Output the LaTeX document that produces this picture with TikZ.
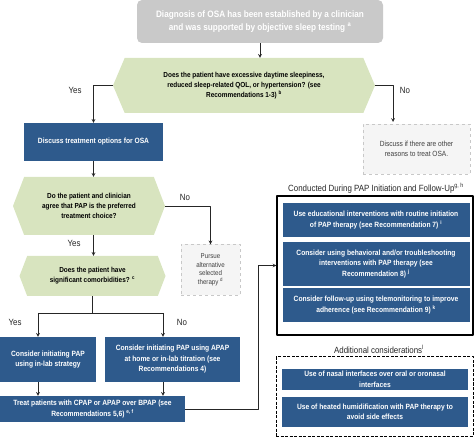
\documentclass[tikz,border=0pt]{standalone}
\usepackage{fontspec}
\setmainfont{Liberation Sans}[FakeStretch=0.88]
\usetikzlibrary{shapes.symbols}
\definecolor{osablue}{HTML}{2E5A8C}
\definecolor{osagreen}{HTML}{D8E4BF}
\definecolor{osagray}{HTML}{C9C9C9}
\definecolor{palegray}{HTML}{F5F5F5}
\definecolor{dashgray}{HTML}{C8C8C8}
\begin{document}
\begin{tikzpicture}[x=1pt, y=-1pt, line join=round, >=stealth, font=\fontsize{7.6}{10.5}\selectfont\bfseries,
		conn/.style={line width=0.7pt, black!85},
		bluebox/.style={fill=osablue, text=white, inner sep=0pt, align=center},
		question/.style={signal, signal to=west and east, signal pointer angle=138, fill=osagreen, inner sep=0pt, align=center, font=\fontsize{7.3}{10}\selectfont\bfseries},
		grybox/.style={draw=dashgray, dashed, fill=palegray, text=black!75, font=\fontsize{7.5}{9.5}\selectfont, inner sep=0pt, align=center},
		lbl/.style={font=\fontsize{9}{10}\selectfont, text=black!85}]
	\useasboundingbox (0,0) rectangle (474,438);
	% main column
	\node[fill=osagray, rounded corners=5pt, text=white, font=\fontsize{9.3}{13.5}\selectfont\bfseries, align=center, inner sep=0pt, minimum width=246pt, minimum height=43pt] (diag) at (260,21.5) {Diagnosis of OSA has been established by a clinician\\and was supported by objective sleep testing \textsuperscript{a}};
	\node[question, signal pointer angle=134, minimum width=262pt, minimum height=55pt] (q1) at (244,85.5) {Does the patient have excessive daytime sleepiness,\\reduced sleep-related QOL, or hypertension? (see\\Recommendations 1-3) \textsuperscript{b}};
	\node[bluebox, minimum width=139pt, minimum height=38pt] (discuss) at (93.5,142) {Discuss treatment options for OSA};
	\node[grybox, minimum width=107pt, minimum height=50pt] (other) at (416.5,149) {Discuss if there are other\\reasons to treat OSA.};
	\node[question, minimum width=152pt, minimum height=58pt] (q2) at (89,206) {Do the patient and clinician\\agree that PAP is the preferred\\treatment choice?};
	\node[grybox, minimum width=59pt, minimum height=51pt, font=\fontsize{7}{8.5}\selectfont] (pursue) at (210.5,270) {Pursue\\alternative\\selected\\therapy \textsuperscript{d}};
	\node[question, minimum width=146pt, minimum height=40pt] (q3) at (92.5,276) {Does the patient have\\significant comorbidities? \textsuperscript{c}};
	\node[bluebox, minimum width=96pt, minimum height=45pt] (inlab) at (48,359.5) {Consider initiating PAP\\using in-lab strategy};
	\node[bluebox, minimum width=135pt, minimum height=45pt] (apap) at (172.5,359.5) {Consider initiating PAP using APAP\\at home or in-lab titration (see\\Recommendations 4)};
	\node[bluebox, minimum width=185pt, minimum height=26pt] (treat) at (92.5,409) {Treat patients with CPAP or APAP over BPAP (see\\Recommendations 5,6) \textsuperscript{e, f}};
	% follow-up group
	\node[lbl] (grptitle) at (376,188) {Conducted During PAP Initiation and Follow-Up\textsuperscript{g, h}};
	\node[draw, line width=1.1pt, minimum width=196pt, minimum height=139pt, inner sep=0pt] (grp) at (375,265.5) {};
	\node[bluebox, minimum width=187pt, minimum height=34pt] (edu) at (376,220) {Use educational interventions with routine initiation\\of PAP therapy (see Recommendation 7) \textsuperscript{i}};
	\node[bluebox, minimum width=187pt, minimum height=44pt] (behav) at (376,264) {Consider using behavioral and/or troubleshooting\\interventions with PAP therapy (see\\Recommendation 8) \textsuperscript{j}};
	\node[bluebox, minimum width=187pt, minimum height=34pt] (tele) at (376,305) {Consider follow-up using telemonitoring to improve\\adherence (see Recommendation 9) \textsuperscript{k}};
	\node[lbl] (addtitle) at (379,349) {Additional considerations\textsuperscript{l}};
	\node[draw, dashed, dash pattern=on 3pt off 1.5pt, line width=1pt, minimum width=197pt, minimum height=79pt, inner sep=0pt] (addl) at (374.5,396.5) {};
	\node[bluebox, minimum width=186pt, minimum height=21pt] (nasal) at (375,379.5) {Use of nasal interfaces over oral or oronasal\\interfaces};
	\node[bluebox, minimum width=186pt, minimum height=30pt] (humid) at (375,412) {Use of heated humidification with PAP therapy to\\avoid side effects};
	% connectors
	\coordinate (oth) at (393,122);
	\coordinate (ly) at (38,313);
	\coordinate (ln) at (163,313);
	\coordinate (turn) at (258,409);
	\draw[conn,->] (diag.south) -- (diag.south |- q1.north);
	\draw[conn,->] (q1.west) -| (discuss.north);
	\draw[conn,->] (q1.east) -| (oth);
	\draw[conn,->] (discuss.south) -- (discuss.south |- q2.north);
	\draw[conn,->] (q2.east) -| (pursue.north);
	\draw[conn,->] (discuss.south |- q2.south) -- (discuss.south |- q3.north);
	\draw[conn] (q3.south) -- (q3.south |- ly);
	\draw[conn] (ly) -- (ln);
	\draw[conn,->] (ly) -- (ly |- inlab.north);
	\draw[conn,->] (ln) -- (ln |- apap.north);
	\draw[conn,->] (ly |- inlab.south) -- (ly |- treat.north);
	\draw[conn,->] (ln |- apap.south) -- (ln |- treat.north);
	\draw[conn,->] (treat.east) -- (turn) |- (grp.west);
	% answers
	\node[lbl] (yes1) at (75,90) {Yes};
	\node[lbl] (no1) at (405,90) {No};
	\node[lbl] (no2) at (185,197) {No};
	\node[lbl] (yes2) at (74,243) {Yes};
	\node[lbl] (yes3) at (15,322) {Yes};
	\node[lbl] (no3) at (182,322) {No};
\end{tikzpicture}
\end{document}
